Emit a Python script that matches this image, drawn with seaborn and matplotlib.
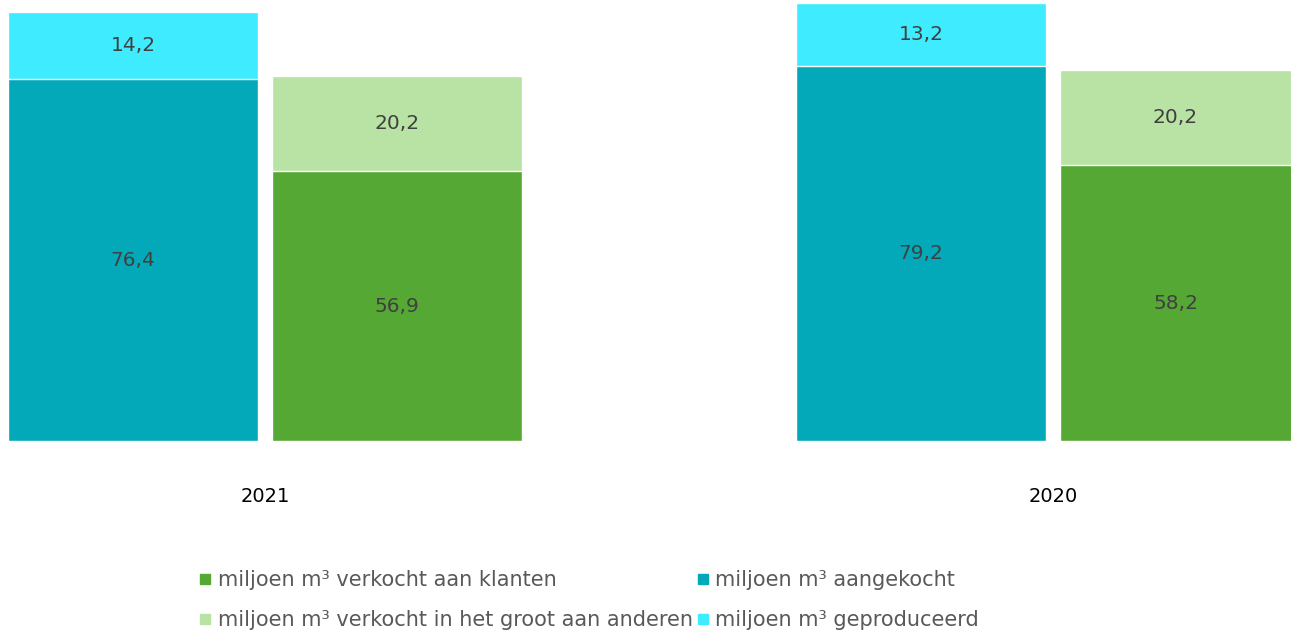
import pandas as pd
import matplotlib
matplotlib.use('Agg')
import matplotlib.pyplot as plt
from matplotlib.lines import Line2D
import seaborn as sns

# ── Gegevens ───────────────────────────────────────────────────────────
jaren = ['2021', '2020']
aangekocht = [76.4, 79.2]
geproduceerd = [14.2, 13.2]
verkocht_klanten = [56.9, 58.2]
verkocht_groot = [20.2, 20.2]

labels = ['miljoen m³ verkocht aan klanten',
          'miljoen m³ verkocht in het groot aan anderen',
          'miljoen m³ aangekocht',
          'miljoen m³ geproduceerd']

kleuren = {'klanten': '#55A833', 'groot': '#B9E3A5',
           'aangekocht': '#03A8B9', 'geproduceerd': '#3EEBFF'}

# onderste en bovenste segment per staaf
rows = []
for i, jaar in enumerate(jaren):
    rows.append({'jaar': jaar, 'kant': 'in',
                 'onder': aangekocht[i], 'boven': geproduceerd[i],
                 'totaal': aangekocht[i] + geproduceerd[i]})
    rows.append({'jaar': jaar, 'kant': 'uit',
                 'onder': verkocht_klanten[i], 'boven': verkocht_groot[i],
                 'totaal': verkocht_klanten[i] + verkocht_groot[i]})
df = pd.DataFrame(rows)

sns.set_theme(style='white')
plt.rcParams['font.family'] = ['DejaVu Sans']

fig = plt.figure(figsize=(12.91, 6.35), dpi=100)
ax = fig.add_axes([0, 194 / 635, 1, 441 / 635])

# totalen eerst (bovenste kleur), daarna het onderste segment eroverheen
sns.barplot(data=df, x='jaar', y='totaal', hue='kant', order=jaren,
            hue_order=['in', 'uit'],
            palette=[kleuren['geproduceerd'], kleuren['groot']],
            width=0.67, gap=0.053, errorbar=None, legend=False,
            saturation=1, ax=ax)
sns.barplot(data=df, x='jaar', y='onder', hue='kant', order=jaren,
            hue_order=['in', 'uit'],
            palette=[kleuren['aangekocht'], kleuren['klanten']],
            width=0.67, gap=0.053, errorbar=None, legend=False,
            saturation=1, ax=ax)

def fmt(v):
    return f'{v:.1f}'.replace('.', ',')

# ── Waardelabels ───────────────────────────────────────────────────────
tot_in, tot_uit, ond_in, ond_uit = ax.containers
for tot_c, ond_c, kant in [(tot_in, ond_in, 'in'), (tot_uit, ond_uit, 'uit')]:
    sub = df[df['kant'] == kant].reset_index(drop=True)
    for j, (pt, po) in enumerate(zip(tot_c.patches, ond_c.patches)):
        xc = pt.get_x() + pt.get_width() / 2
        # laatste staaf valt buiten beeld: centreren op zichtbaar deel
        if xc + pt.get_width() / 2 > 1.302:
            xc = (pt.get_x() + 1.302) / 2
        ax.text(xc, po.get_height() / 2, fmt(sub.loc[j, 'onder']),
                ha='center', va='center', fontsize=14.5, color='#404040')
        ax.text(xc, (po.get_height() + pt.get_height()) / 2,
                fmt(sub.loc[j, 'boven']),
                ha='center', va='center', fontsize=14.5, color='#404040')

ax.set_xlim(-0.3363, 1.302)
ax.set_ylim(0, 93.1)
ax.set_xlabel('')
ax.set_ylabel('')
ax.set_yticks([])
ax.tick_params(axis='x', length=0, pad=33, labelsize=14, labelcolor='black')
for s in ax.spines.values():
    s.set_visible(False)

# ── Legenda ────────────────────────────────────────────────────────────
handles = [Line2D([], [], marker='s', ls='', markersize=7,
                  color=kleuren[k])
           for k in ['klanten', 'groot', 'aangekocht', 'geproduceerd']]
fig.legend(handles, labels, ncol=2, loc='center',
           bbox_to_anchor=(589 / 1291, 35 / 635), frameon=False,
           fontsize=15, labelcolor='#595959', handlelength=0.6,
           handletextpad=0.3, columnspacing=0.2, labelspacing=0.97)

fig.savefig('out.png', dpi=100)
